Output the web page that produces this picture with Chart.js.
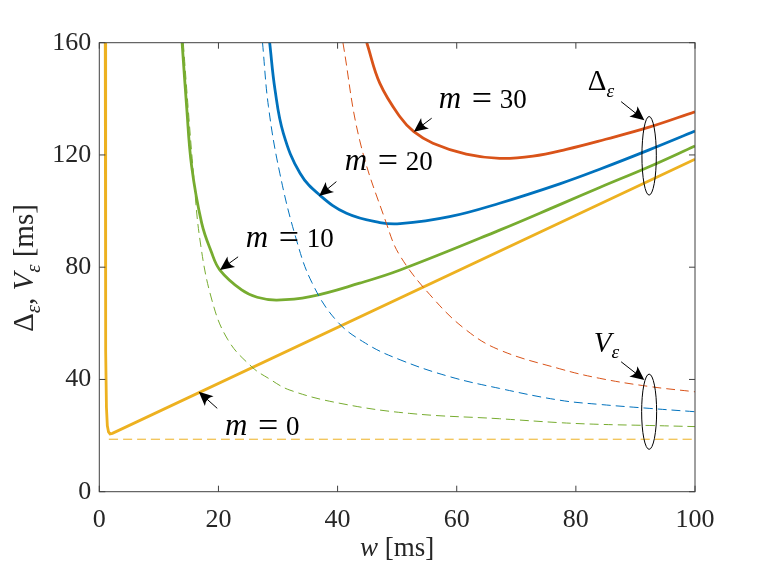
<!DOCTYPE html>
<html>
<head>
<meta charset="utf-8">
<script src="https://cdn.jsdelivr.net/npm/chart.js@4.4.1/dist/chart.umd.min.js"></script>
<style>
html, body { margin: 0; padding: 0; background: #fff; }
</style>
</head>
<body>
<canvas id="myChart" width="773" height="575"></canvas>
<script>
// values: w [ms] and Delta / V [ms] for each m
var wDelta0 = [1.0, 1.04, 1.1, 1.2, 1.35, 1.55, 1.8, 2.2, 100];
var delta0  = [160, 100, 50, 30, 23.5, 21.3, 20.6, 20.8, 118.5];
var wV0 = [1.6, 100];
var v0  = [18.7, 18.7];

var wDelta10 = [13.9, 14.66, 15.5, 17.2, 18.8, 20.25, 23.9, 26.5, 29.8, 35.4, 43.7, 50.5, 67.2, 77.3, 84, 92.3, 100];
var delta10  = [160, 137.2, 116, 95.6, 85.5, 79.0, 71.9, 69.3, 68.3, 69.5, 74.3, 79.0, 93.2, 102.3, 108.4, 115.8, 123.2];
var wV10 = [14.1, 14.9, 15.8, 16.9, 18.9, 21.6, 25.6, 28.4, 32, 40.4, 52.1, 67.2, 77.3, 84, 92.3, 100];
var v10  = [160, 137.2, 113.5, 89.7, 68.3, 54.1, 44.5, 40.4, 36.2, 31.5, 27.9, 26.0, 24.6, 24.0, 23.6, 23.2];

var wDelta20 = [28.6, 29.5, 30.9, 33.7, 37.0, 41.5, 47.1, 50.5, 58.8, 67.2, 77.3, 84, 92.3, 100];
var delta20  = [160, 143.2, 127.7, 113.5, 105.7, 99.2, 95.9, 95.5, 98.0, 102.8, 109.7, 114.9, 121.8, 128.5];
var wV20 = [27.4, 28.4, 30.3, 33.1, 35.7, 39.8, 44.7, 50.5, 58.8, 67.2, 77.3, 84, 92.3, 100];
var v20  = [160, 137.2, 113.5, 89.7, 74.5, 61, 52.9, 47, 41, 36.8, 32.6, 31.1, 29.7, 28.5];

var wDelta30 = [44.9, 47.1, 50.5, 52.8, 56, 61.6, 67.2, 72.8, 78.4, 85, 92.3, 100];
var delta30  = [160, 145.5, 133.5, 128.3, 124.2, 120.3, 118.8, 119.6, 122.0, 125.6, 129.9, 135.4];
var wV30 = [40.9, 43.7, 48.2, 50.5, 56, 61.6, 67.2, 77.3, 84, 92.3, 100];
var v30  = [160, 125.3, 95.6, 84, 69, 57.6, 50.5, 43.8, 40.4, 37.5, 35.6];

var xTicks = [0, 20, 40, 60, 80, 100];
var yTicks = [0, 40, 80, 120, 160];

var BLUE = '#0072BD', RED = '#D95319', YELLOW = '#EDB120', GREEN = '#77AC30';
var FONT = '"Liberation Serif", "Times New Roman", serif';
var AXIS = '#404040';

function pts(xs, ys) {
    return xs.map(function(x, i){ return {x: x, y: ys[i]}; });
}

function solid(xs, ys, color, tension) {
    return { data: pts(xs, ys), borderColor: color, borderWidth: 2.8, showLine: true,
             pointRadius: 0, tension: tension, fill: false };
}
function dashed(xs, ys, color) {
    return { data: pts(xs, ys), borderColor: color, borderWidth: 1, borderDash: [9, 5], showLine: true,
             pointRadius: 0, tension: 0.4, fill: false };
}

// "m = .." labels: parts placed at pixel offsets dx from the label start
function mLabel(n) {
    return [{t:'m', it:true, dx:0, size:31}, {t:'=', dx:33, size:36, dy:2}, {t:n, dx:61}];
}
var labels = [
    {text: mLabel('30'), x: 57.0, y: 136.6, from: [55.8, 133.1], to: [52.8, 128.3]},
    {text: mLabel('20'), x: 41.2, y: 114.5, from: [39.8, 110.5], to: [36.9, 105.4]},
    {text: mLabel('10'), x: 24.6, y: 87.3, from: [23.3, 83.7], to: [20.25, 79.0]},
    {text: mLabel('0'), x: 21.1, y: 20.2, from: [19.8, 29.7], to: [16.7, 35.6]},
    {text: [{t:'\u0394', size:29}, {t:'\u03b5', it:true, sub:true}], x: 82.0, y: 143.1, from: [87.6, 139.0], to: [91.5, 132.4]},
    {text: [{t:'V', it:true, size:29}, {t:'\u03b5', it:true, sub:true}], x: 83.0, y: 49.8, from: [87.6, 46.3], to: [91.5, 39.8]}
];
var rings = [
    {x: 92.3, y: 119.7, rw: 1.21, rh: 14.0},
    {x: 92.3, y: 28.5, rw: 1.26, rh: 13.4}
];

function fontFor(p, size) {
    var s = p.size || size;
    if (p.sub) s = size * 0.72;
    return (p.it ? 'italic ' : '') + s + 'px ' + FONT;
}
function richWidth(ctx, parts, size) {
    var w = 0;
    parts.forEach(function(p){ ctx.font = fontFor(p, size); w += ctx.measureText(p.t).width; });
    return w;
}
function drawRich(ctx, parts, x, y, size, align) {
    var w = richWidth(ctx, parts, size);
    var cx = align === 'center' ? x - w / 2 : x;
    ctx.textBaseline = 'alphabetic';
    ctx.textAlign = 'left';
    parts.forEach(function(p){
        ctx.font = fontFor(p, size);
        var px = p.dx !== undefined ? x + p.dx : cx;
        ctx.fillText(p.t, px, y + (p.sub ? size * 0.24 : 0) + (p.dy || 0));
        cx = px + ctx.measureText(p.t).width;
    });
}
function drawArrow(ctx, x1, y1, x2, y2) {
    var a = Math.atan2(y2 - y1, x2 - x1), L = 14, W = 6.5;
    ctx.beginPath();
    ctx.moveTo(x1, y1);
    ctx.lineTo(x2 - L * 0.6 * Math.cos(a), y2 - L * 0.6 * Math.sin(a));
    ctx.stroke();
    ctx.save();
    ctx.translate(x2, y2);
    ctx.rotate(a);
    ctx.beginPath();
    ctx.moveTo(0, 0);
    ctx.lineTo(-L, -W);
    ctx.quadraticCurveTo(-L * 0.65, 0, -L, W);
    ctx.closePath();
    ctx.fill();
    ctx.restore();
}

var decor = {
    id: 'decor',
    afterDraw: function(chart) {
        var ctx = chart.ctx, xs = chart.scales.x, ys = chart.scales.y, a = chart.chartArea;
        ctx.save();
        // box and inward ticks
        ctx.strokeStyle = AXIS;
        ctx.lineWidth = 1;
        ctx.strokeRect(a.left, a.top, a.right - a.left, a.bottom - a.top);
        ctx.beginPath();
        xTicks.forEach(function(t){
            var px = xs.getPixelForValue(t);
            ctx.moveTo(px, a.bottom); ctx.lineTo(px, a.bottom - 6);
            ctx.moveTo(px, a.top); ctx.lineTo(px, a.top + 6);
        });
        yTicks.forEach(function(t){
            var py = ys.getPixelForValue(t);
            ctx.moveTo(a.left, py); ctx.lineTo(a.left + 6, py);
            ctx.moveTo(a.right, py); ctx.lineTo(a.right - 6, py);
        });
        ctx.stroke();

        // axis titles
        ctx.fillStyle = '#262626';
        drawRich(ctx, [{t:'w', it:true}, {t:' [ms]'}], (a.left + a.right) / 2, 556, 27, 'center');
        ctx.save();
        ctx.translate(33, 268);
        ctx.rotate(-Math.PI / 2);
        drawRich(ctx, [{t:'\u0394'}, {t:'\u03b5', it:true, sub:true}, {t:', '}, {t:'V', it:true},
                       {t:'\u03b5', it:true, sub:true}, {t:' [ms]'}], 0, 0, 29, 'center');
        ctx.restore();

        // annotations
        ctx.fillStyle = '#000';
        ctx.strokeStyle = '#000';
        labels.forEach(function(l){
            drawRich(ctx, l.text, xs.getPixelForValue(l.x), ys.getPixelForValue(l.y), 27, 'left');
            drawArrow(ctx, xs.getPixelForValue(l.from[0]), ys.getPixelForValue(l.from[1]),
                           xs.getPixelForValue(l.to[0]), ys.getPixelForValue(l.to[1]));
        });
        ctx.lineWidth = 1;
        rings.forEach(function(r){
            var cx = xs.getPixelForValue(r.x), cy = ys.getPixelForValue(r.y);
            var rx = xs.getPixelForValue(r.x + r.rw) - cx, ry = cy - ys.getPixelForValue(r.y + r.rh);
            ctx.beginPath();
            ctx.ellipse(cx, cy, rx, ry, 0, 0, Math.PI * 2);
            ctx.stroke();
        });
        ctx.restore();
    }
};

var ctx = document.getElementById('myChart');
var myChart = new Chart(ctx, {
    type: 'scatter',
    data: {
        datasets: [
            dashed(wV0, v0, YELLOW),
            dashed(wV10, v10, GREEN),
            dashed(wV20, v20, BLUE),
            dashed(wV30, v30, RED),
            solid(wDelta0, delta0, YELLOW, 0),
            solid(wDelta10, delta10, GREEN, 0.4),
            solid(wDelta20, delta20, BLUE, 0.4),
            solid(wDelta30, delta30, RED, 0.4)
        ]
    },
    options: {
        responsive: false,
        animation: false,
        devicePixelRatio: 1,
        layout: { padding: { left: 0, top: 42.7, right: 78, bottom: 0 } },
        plugins: { legend: { display: false }, tooltip: { enabled: false } },
        scales: {
            x: {
                type: 'linear', min: 0, max: 100,
                afterBuildTicks: function(s){ s.ticks = xTicks.map(function(v){ return {value: v}; }); },
                afterFit: function(s){ s.height = 83.3; },
                ticks: { color: '#262626', font: { family: FONT, size: 26 }, padding: 13, maxRotation: 0 },
                grid: { display: false, drawTicks: false },
                border: { display: false }
            },
            y: {
                min: 0, max: 160,
                afterBuildTicks: function(s){ s.ticks = yTicks.map(function(v){ return {value: v}; }); },
                afterFit: function(s){ s.width = 99.3; },
                ticks: { color: '#262626', font: { family: FONT, size: 26 }, padding: 8 },
                grid: { display: false, drawTicks: false },
                border: { display: false }
            }
        }
    },
    plugins: [decor]
});
</script>
</body>
</html>
